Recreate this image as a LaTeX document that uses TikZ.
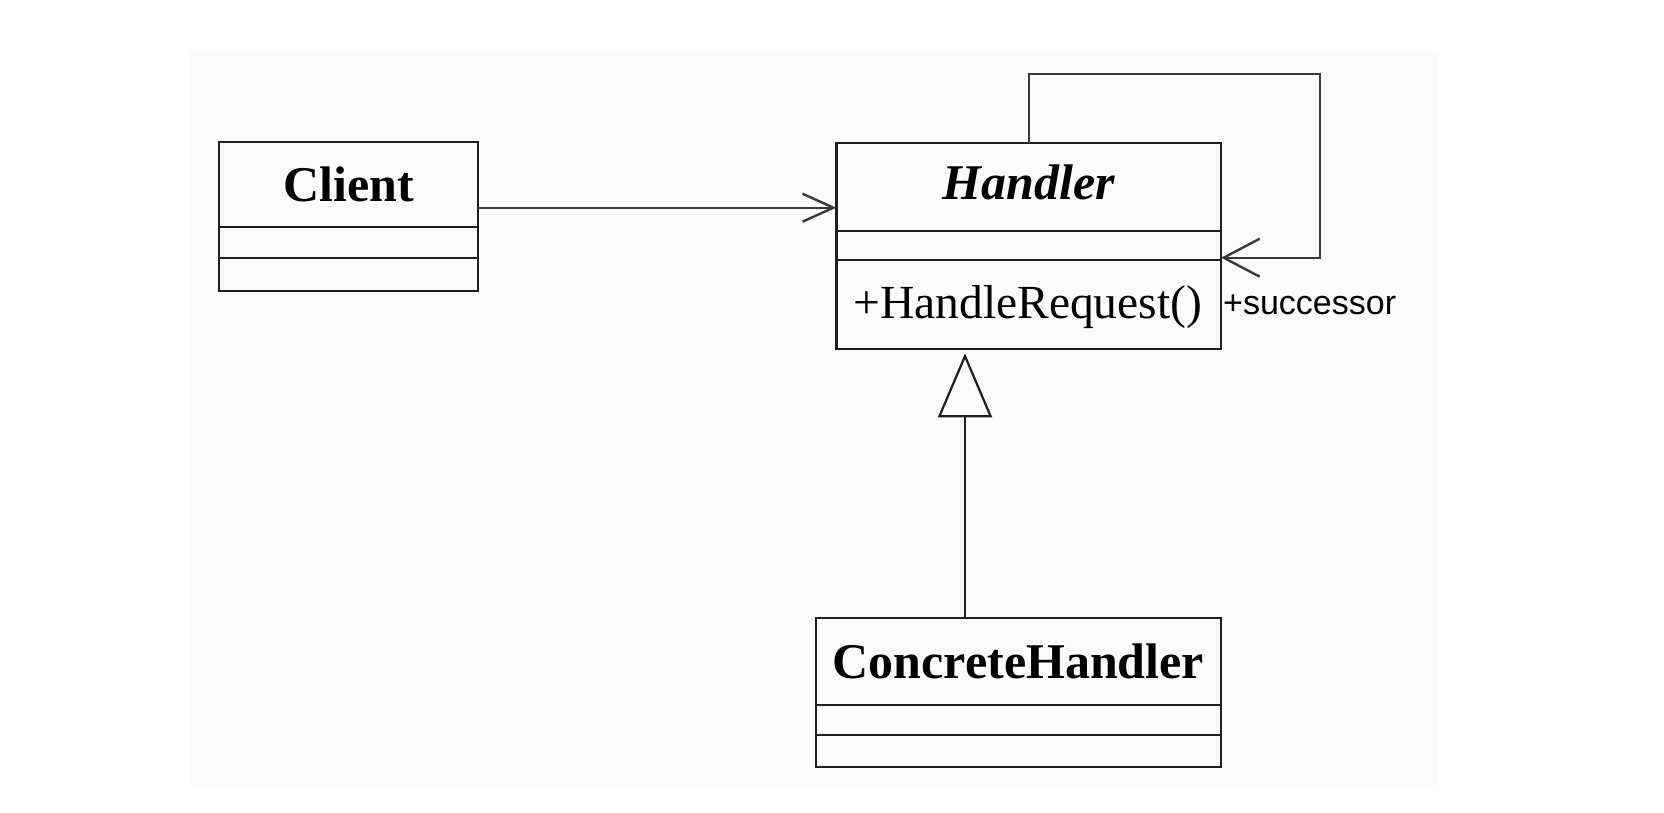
\documentclass[tikz,border=0pt]{standalone}
\usepackage{fontspec}
\setmainfont{Liberation Serif}
\newfontfamily\sansfam{Liberation Sans}
\usetikzlibrary{arrows.meta}
\definecolor{ink}{HTML}{1E1E1E}
\definecolor{linegray}{HTML}{3A3A3A}
\definecolor{paper}{HTML}{FBFBFB}
\begin{document}
\begin{tikzpicture}[x=1pt,y=-1pt,
  comp/.style={draw=ink, line width=2.2pt, rectangle, inner sep=0pt, outer sep=0pt, anchor=north west},
  titlefont/.style={font={\fontsize{50}{60}\selectfont\bfseries}},
  assoc/.style={draw=linegray, line width=2.4pt, -{Straight Barb[length=31pt,width=28pt]}},
  selfassoc/.style={draw=linegray, line width=2.4pt, -{Straight Barb[length=36pt,width=38pt]}},
  inherit/.style={draw=ink, line width=2.2pt, -{Triangle[open,length=64pt,width=54pt]}}]
\useasboundingbox (0,0) rectangle (1664,812);
\fill[white] (0,0) rectangle (1664,812);
\fill[paper] (189.3,51) rectangle (1439.3,785);

% Client
\node[comp, titlefont, minimum width=259pt, text height=59.4pt, text depth=25pt] (client) at (219.3,142.3) {Client};
\node[comp, minimum width=259pt, minimum height=31pt] (clienta) at (client.south west) {};
\node[comp, minimum width=259pt, minimum height=33.3pt] (cliento) at (clienta.south west) {};

% Handler
\node[comp, font={\fontsize{50}{60}\selectfont\bfseries\itshape}, minimum width=384.7pt, text height=56.6pt, text depth=31.7pt] (hdl) at (836.4,142.7) {Handler};
\node[comp, minimum width=384.7pt, minimum height=29pt] (hdla) at (hdl.south west) {};
\node[comp, font={\fontsize{47.5}{56}\selectfont}, minimum width=384.7pt, inner xsep=17pt, text width=350.7pt, align=left, text height=58.3pt, text depth=30.7pt] (hdlo) at (hdla.south west) {+HandleRequest()};

% ConcreteHandler
\node[comp, titlefont, minimum width=404.7pt, text height=60.6pt, text depth=26.7pt] (ch) at (816,617.7) {ConcreteHandler};
\node[comp, minimum width=404.7pt, minimum height=30pt] (cha) at (ch.south west) {};
\node[comp, minimum width=404.7pt, minimum height=31.7pt] (cho) at (cha.south west) {};

% Client -> Handler
\coordinate (ay) at (0,207.7);
\draw[assoc] (client.east |- ay) -- (hdl.west |- ay);

% self association
\coordinate (loopc) at (1320,74);
\draw[selfassoc] (hdl.north) |- (loopc) |- ([yshift=2.3pt]hdlo.north east);
\node[anchor=base west, inner sep=0pt, font={\sansfam\fontsize{34}{40}\selectfont}] (succ) at (1223,314.3) {+successor};

% generalization
\coordinate (gtip) at (965,353.3);
\draw[inherit] (ch.north -| gtip) -- (gtip);
\end{tikzpicture}
\end{document}
